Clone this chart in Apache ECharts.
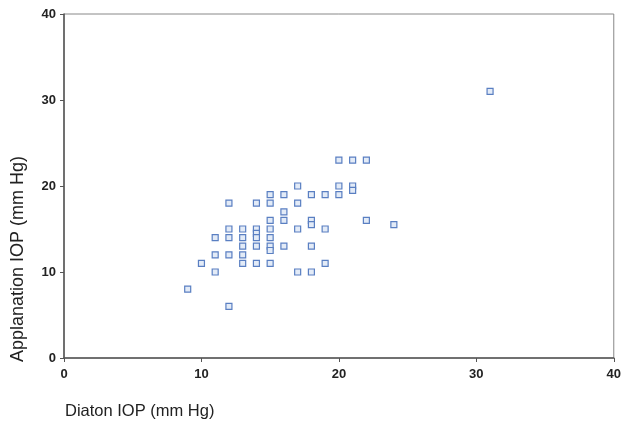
<!DOCTYPE html>
<html>
<head>
<meta charset="utf-8">
<script src="https://cdn.jsdelivr.net/npm/echarts@6/dist/echarts.min.js"></script>
<style>
html,body{margin:0;padding:0;background:#fff;}
#c{width:624px;height:429px;}
</style>
</head>
<body>
<div id="c"></div>
<script>
// Diaton IOP (x) values
var diatonIOP = [9, 10, 11, 11, 11, 12, 12, 12, 12, 12,
  13, 13, 13, 13, 13, 14, 14, 14, 14, 14, 14,
  15, 15, 15, 15, 15, 15, 15, 15,
  16, 16, 16, 16, 17, 17, 17, 17,
  18, 18, 18, 18, 18, 19, 19, 19,
  20, 20, 20, 21, 21, 21, 22, 22, 24, 31];
// Applanation IOP (y) values
var applanationIOP = [8, 11, 14, 12, 10, 18, 15, 14, 12, 6,
  15, 14, 13, 12, 11, 18, 15, 14.5, 14, 13, 11,
  19, 18, 16, 15, 14, 13, 12.5, 11,
  19, 17, 16, 13, 20, 18, 15, 10,
  19, 16, 15.5, 13, 10, 19, 15, 11,
  23, 20, 19, 23, 20, 19.5, 23, 16, 15.5, 31];
var xTicks = [0, 10, 20, 30, 40];
var yTicks = [0, 10, 20, 30, 40];
var xTitle = 'Diaton IOP (mm Hg)';
var yTitle = 'Applanation IOP (mm Hg)';

var pts = diatonIOP.map(function (x, i) { return [x, applanationIOP[i]]; });

var chart = echarts.init(document.getElementById('c'));
var axisLabel = { color: '#222', fontFamily: 'Liberation Sans', fontSize: 13, fontWeight: 'bold' };
chart.setOption({
  animation: false,
  backgroundColor: '#fff',
  grid: { left: 64, right: 9, top: 14, bottom: 71, show: true, borderColor: '#888', borderWidth: 1 },
  xAxis: {
    type: 'value', min: xTicks[0], max: xTicks[xTicks.length - 1], interval: 10,
    splitLine: { show: false },
    axisLine: { show: true, lineStyle: { color: '#555', width: 1.5 } },
    axisTick: { show: true, length: 4, lineStyle: { color: '#555' } },
    axisLabel: Object.assign({ margin: 10 }, axisLabel)
  },
  yAxis: {
    type: 'value', min: yTicks[0], max: yTicks[yTicks.length - 1], interval: 10,
    splitLine: { show: false },
    axisLine: { show: true, lineStyle: { color: '#555', width: 1.5 } },
    axisTick: { show: true, length: 4, lineStyle: { color: '#555' } },
    axisLabel: Object.assign({ margin: 8 }, axisLabel)
  },
  graphic: [
    { type: 'text', left: 65, top: 403,
      style: { text: xTitle, fill: '#222', font: '16.5px "Liberation Sans"' } },
    { type: 'text', x: 9, y: 362, rotation: Math.PI / 2,
      style: { text: yTitle, fill: '#222', font: '18px "Liberation Sans"', align: 'left', verticalAlign: 'top' } }
  ],
  series: [{
    type: 'scatter',
    data: pts,
    symbol: 'rect',
    symbolSize: 6,
    itemStyle: { color: '#e3ebf7', borderColor: '#5a7fc2', borderWidth: 1.2, opacity: 1 }
  }]
});
</script>
</body>
</html>
